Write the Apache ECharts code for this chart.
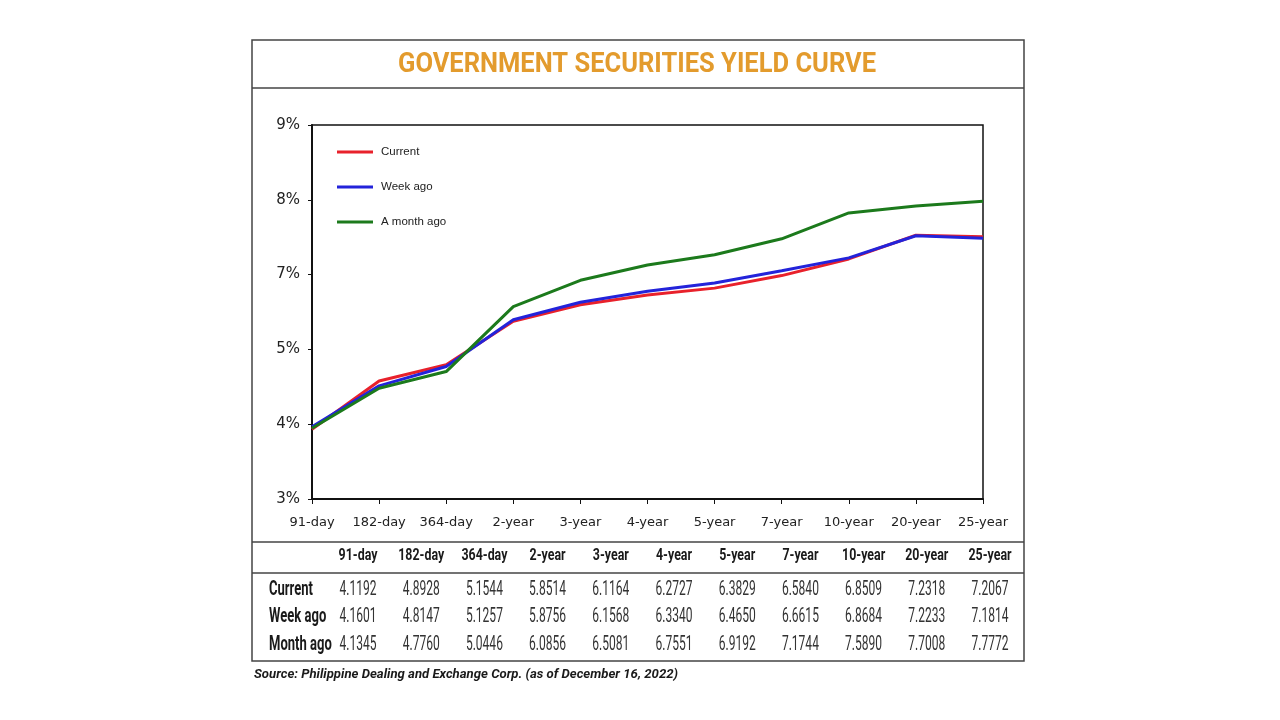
<!DOCTYPE html>
<html>
<head>
<meta charset="utf-8">
<script src="https://cdn.jsdelivr.net/npm/echarts@6/dist/echarts.min.js"></script>
<style>
  html, body { margin: 0; padding: 0; background: #ffffff; }
  #chart { width: 1280px; height: 720px; }
</style>
</head>
<body>
<div id="chart"></div>
<script>
// ---- Data ----
const categories = ['91-day', '182-day', '364-day', '2-year', '3-year', '4-year', '5-year', '7-year', '10-year', '20-year', '25-year'];
const current  = [4.1192, 4.8928, 5.1544, 5.8514, 6.1164, 6.2727, 6.3829, 6.5840, 6.8509, 7.2318, 7.2067];
const weekAgo  = [4.1601, 4.8147, 5.1257, 5.8756, 6.1568, 6.3340, 6.4650, 6.6615, 6.8684, 7.2233, 7.1814];
const monthAgo = [4.1345, 4.7760, 5.0446, 6.0856, 6.5081, 6.7551, 6.9192, 7.1744, 7.5890, 7.7008, 7.7772];
const legendNames = ['Current', 'Week ago', 'A month ago'];
const tableRowLabels = ['Current', 'Week ago', 'Month ago'];
const yTickLabels = ['3%', '4%', '5%', '7%', '8%', '9%'];
const titleText = 'GOVERNMENT SECURITIES YIELD CURVE';
const sourceText = 'Source: Philippine Dealing and Exchange Corp. (as of December 16, 2022)';

// ---- Helpers ----
const mctx = document.createElement('canvas').getContext('2d');
function fitScale(text, font, targetW) {
  mctx.font = font;
  return targetW / mctx.measureText(text).width;
}
function txt(text, x, y, font, fill, align, scaleX) {
  return {
    type: 'text', x: x, y: y, scaleX: scaleX || 1, silent: true,
    style: { text: text, font: font, fill: fill, align: align, verticalAlign: 'middle',
             textAlign: align, textVerticalAlign: 'middle' }
  };
}
function hline(x1, x2, y, w, c) {
  return { type: 'line', silent: true, shape: { x1: x1, y1: y, x2: x2, y2: y },
           style: { stroke: c || '#444', lineWidth: w || 1.5 } };
}

// ---- Layout constants ----
const boxL = 252, boxR = 1024, boxT = 40, boxB = 661;
const colX0 = 358, colStep = 63.2;
const headerY = 556;
const rowYs = [590, 617, 645];

const titleFont = 'bold 28px Roboto';
const headFont = 'bold 17px Roboto';
const rowFont = 'bold 21px Roboto';
const numFont = '21px Roboto';
const srcFont = 'italic bold 12.5px Roboto';

const titleScale = fitScale(titleText, titleFont, 478);
const headScale = fitScale('182-day', headFont, 46);
const rowScale = fitScale('Current', rowFont, 44);
const numScale = fitScale('4.8928', numFont, 37);
const srcScale = fitScale(sourceText, srcFont, 424);

const graphics = [];
graphics.push({ type: 'rect', silent: true, shape: { x: boxL, y: boxT, width: boxR - boxL, height: boxB - boxT },
                style: { fill: 'none', stroke: '#444', lineWidth: 1.5 } });
graphics.push(hline(boxL, boxR, 88, 1.5));
graphics.push(hline(boxL, boxR, 542, 1.5));
graphics.push(hline(boxL, boxR, 573, 1.5));
graphics.push(txt(titleText, 637, 65, titleFont, '#E39B2D', 'center', titleScale));

categories.forEach(function (c, i) {
  graphics.push(txt(c, colX0 + i * colStep, headerY, headFont, '#1a1a1a', 'center', headScale));
});
const rows = [current, weekAgo, monthAgo];
rows.forEach(function (arr, r) {
  graphics.push(txt(tableRowLabels[r], 269, rowYs[r], rowFont, '#1a1a1a', 'left', rowScale));
  arr.forEach(function (v, i) {
    graphics.push(txt(v.toFixed(4), colX0 + i * colStep, rowYs[r], numFont, '#333', 'center', numScale));
  });
});
graphics.push(txt(sourceText, 254, 675, srcFont, '#1a1a1a', 'left', srcScale));

const chart = echarts.init(document.getElementById('chart'), null, { renderer: 'canvas' });
const lineColors = ['#E8212B', '#2323DA', '#1C7A1C'];
const seriesData = [current, weekAgo, monthAgo];

chart.setOption({
  animation: false,
  backgroundColor: '#ffffff',
  grid: { left: 312, top: 125, width: 671, height: 374, show: true, borderColor: '#111', borderWidth: 1.5, backgroundColor: 'transparent' },
  legend: {
    orient: 'vertical', left: 337, top: 145, padding: 0,
    itemWidth: 36, itemHeight: 3, itemGap: 21, icon: 'rect',
    textStyle: { fontFamily: 'Liberation Sans', fontSize: 11.5, color: '#222', lineHeight: 14, padding: [0, 0, 0, 3] },
    data: legendNames
  },
  xAxis: {
    type: 'category', data: categories, boundaryGap: false,
    axisLine: { show: true, lineStyle: { color: '#111', width: 2 } },
    axisTick: { show: true, alignWithLabel: true, length: 5, lineStyle: { color: '#111', width: 1 } },
    axisLabel: { fontFamily: 'DejaVu Sans', fontSize: 13, color: '#222', margin: 17, interval: 0 },
    splitLine: { show: false }
  },
  yAxis: {
    type: 'value', min: 3, max: 9, interval: 1.2,
    axisLine: { show: true, lineStyle: { color: '#111', width: 2 } },
    axisTick: { show: true, length: 4, lineStyle: { color: '#111', width: 1 } },
    axisLabel: { fontFamily: 'DejaVu Sans', fontSize: 15, color: '#222', margin: 12,
                 formatter: function (v, idx) { return yTickLabels[idx] !== undefined ? yTickLabels[idx] : ''; } },
    splitLine: { show: false }
  },
  series: legendNames.map(function (n, k) {
    return {
      name: n, type: 'line', data: seriesData[k], showSymbol: false, symbol: 'none',
      lineStyle: { color: lineColors[k], width: 3 }, itemStyle: { color: lineColors[k] },
      z: 2 + k
    };
  }),
  graphic: graphics
});
</script>
</body>
</html>
